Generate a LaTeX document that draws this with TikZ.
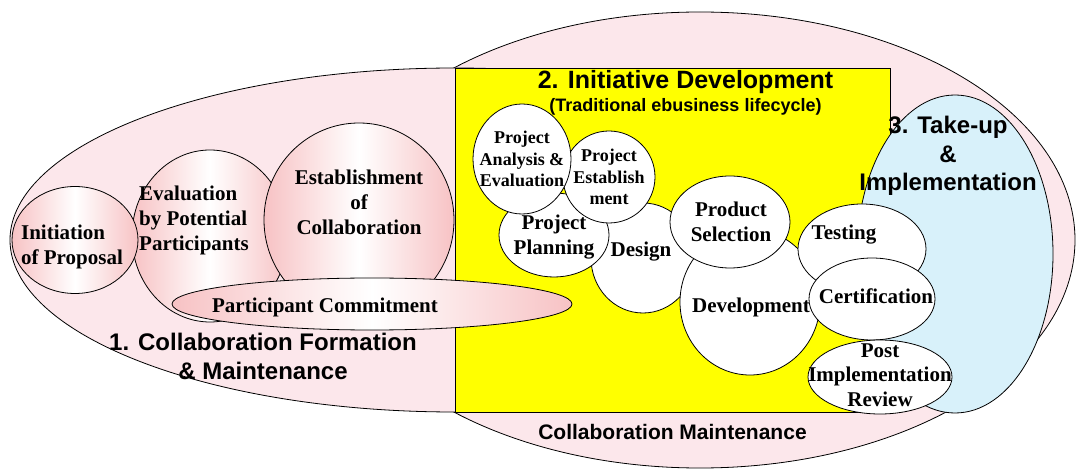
\documentclass[tikz,border=0pt]{standalone}
\usepackage{fontspec}
\setmainfont{Liberation Serif}
\setsansfont{Liberation Sans}
\usetikzlibrary{shapes.geometric,positioning}
\definecolor{phasepink}{HTML}{FCE7EB}
\definecolor{bubblepink}{HTML}{F7C2C4}
\definecolor{takeupblue}{HTML}{D8F1FA}
\definecolor{devyellow}{HTML}{FFFF00}

\begin{document}
\begin{tikzpicture}[
  x=1pt, y=-1pt, line width=0.8pt,
  phase/.style={ellipse, draw, fill=phasepink, inner sep=0pt},
  bubble/.style={ellipse, draw, inner sep=0pt, left color=bubblepink,
                 right color=bubblepink, middle color=white},
  task/.style={ellipse, draw, fill=white, inner sep=0pt},
  txt/.style={inner sep=0pt, align=center,
              font=\bfseries\fontsize{21pt}{25pt}\selectfont},
  smalltxt/.style={txt, font=\bfseries\fontsize{18pt}{21.5pt}\selectfont},
  heading/.style={inner sep=0pt, align=center,
                  font=\sffamily\bfseries\fontsize{24pt}{29pt}\selectfont}
]
  \useasboundingbox (0,0) rectangle (1077,470);

  \node[phase, minimum width=750pt, minimum height=456pt] (maint) at (700,240) {};
  \node[phase, minimum width=890pt, minimum height=344pt] (form) at (455,240) {};
  \node[draw, fill=devyellow, inner sep=0pt, minimum width=435pt,
        minimum height=344pt] (dev) at (672.5,240) {};
  \node[ellipse, draw, fill=takeupblue, inner sep=0pt, minimum width=196pt,
        minimum height=318pt] (takeup) at (955,254) {};

  % formation bubbles
  \node[bubble, minimum width=156pt, minimum height=172pt] (eval)   at (210,236) {};
  \node[bubble, minimum width=126pt, minimum height=107pt] (init)   at (75,240)  {};
  \node[bubble, minimum width=190pt, minimum height=194pt] (estab)  at (359,220) {};
  \node[bubble, minimum width=400pt, minimum height=52pt]  (commit) at (372,304) {};

  % lifecycle bubbles
  \node[task, minimum width=104pt, minimum height=110pt] (design)    at (643,258) {};
  \node[task, minimum width=110pt, minimum height=84pt]  (plan)      at (554,235) {};
  \node[task, minimum width=92pt,  minimum height=92pt]  (establish) at (609,177) {};
  \node[task, minimum width=98pt,  minimum height=110pt] (analysis)  at (522,159) {};
  \node[task, minimum width=140pt, minimum height=146pt] (build)     at (750,302) {};
  \node[task, minimum width=120pt, minimum height=92pt]  (select)    at (730,222) {};
  \node[task, minimum width=128pt, minimum height=90pt]  (test)      at (862,249) {};
  \node[task, minimum width=126pt, minimum height=82pt]  (cert)      at (872,299) {};
  \node[task, minimum width=144pt, minimum height=74pt]  (review)    at (880,377) {};

  % labels
  \node[txt, align=left] (initlbl) at ([shift={(-3,7)}]init.center) {Initiation\\of Proposal};
  \node[txt, align=left] (evallbl) at ([shift={(-16,-16)}]eval.center) {Evaluation\\by Potential\\Participants};
  \node[txt] (establbl)  at ([shift={(0,-18)}]estab.center) {Establishment\\of\\Collaboration};
  \node[txt] (commitlbl) at ([shift={(-47,3)}]commit.center) {Participant Commitment};
  \node[smalltxt] (analysislbl)  at (analysis.center) {Project\\Analysis \&\\Evaluation};
  \node[smalltxt] (establishlbl) at (establish.center) {Project\\Establish\\ment};
  \node[txt] (planlbl)   at ([shift={(0,2)}]plan.center) {Project\\Planning};
  \node[txt] (designlbl) at ([shift={(-2,-6)}]design.center) {Design};
  \node[txt] (selectlbl) at ([shift={(1,0)}]select.center) {Product\\Selection};
  \node[txt] (buildlbl)  at ([shift={(1,5)}]build.center) {Development};
  \node[txt] (testlbl)   at ([shift={(-18,-14)}]test.center) {Testing};
  \node[txt] (certlbl)   at ([shift={(4,-3)}]cert.center) {Certification};
  \node[txt, font=\bfseries\fontsize{21pt}{24.5pt}\selectfont] (reviewlbl)
    at ([shift={(0,-2)}]review.center) {Post\\Implementation\\Review};

  % phase headings
  \node[heading, font=\sffamily\bfseries\fontsize{25pt}{29pt}\selectfont,
        below=2pt of dev.north, xshift=13pt] (devtitle) {2. Initiative Development};
  \node[heading, font=\sffamily\bfseries\fontsize{18pt}{21pt}\selectfont,
        below=4pt of devtitle] (devsub) {(Traditional ebusiness lifecycle)};
  \node[heading, font=\sffamily\bfseries\fontsize{24pt}{28.5pt}\selectfont]
    (takeuptitle) at ([shift={(-7,-98)}]takeup.center) {3. Take-up\\\&\\Implementation};
  \node[heading] (formtitle) at (263,356) {1. Collaboration Formation\\\& Maintenance};
  \node[heading, font=\sffamily\bfseries\fontsize{21pt}{25pt}\selectfont,
        below=11pt of dev.south] (mainttitle) {Collaboration Maintenance};
\end{tikzpicture}
\end{document}
